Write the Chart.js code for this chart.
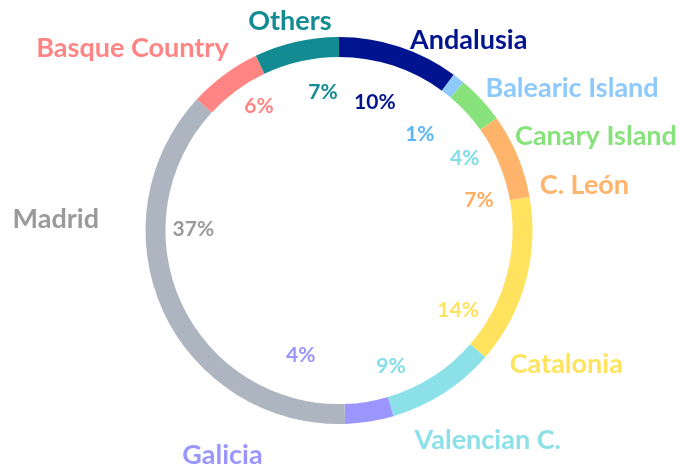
<!DOCTYPE html>
<html>
<head>
<meta charset="utf-8">
<script src="https://cdn.jsdelivr.net/npm/chart.js@4"></script>
<style>
    html, body { margin: 0; padding: 0; background: #ffffff; }
    #wrap { width: 680px; height: 467px; }
</style>
</head>
<body>
<div id="wrap"><canvas id="regionChart" width="680" height="467"></canvas></div>
<script>
// Share by region (%), clockwise from 12 o'clock
const regions = ['Andalusia', 'Balearic Island', 'Canary Island', 'C. León', 'Catalonia',
                 'Valencian C.', 'Galicia', 'Madrid', 'Basque Country', 'Others'];
const shares = [10, 1, 4, 7, 14, 9, 4, 37, 6, 7];
const pctLabels = ['10%', '1%', '4%', '7%', '14%', '9%', '4%', '37%', '6%', '7%'];

// Colours
const sliceColors = ['#00148f', '#8ec9fb', '#88e27c', '#ffb46c', '#ffe35e',
                     '#8ce0e8', '#9a96fd', '#adb6c0', '#ff8585', '#128c92'];
const nameColors = ['#00148f', '#8ec9fb', '#88e27c', '#ffb46c', '#ffe35e',
                    '#8ce0e8', '#9a96fd', '#9a9a9a', '#ff8585', '#128c92'];
const pctColors = ['#00148f', '#5ab6f5', '#7fdde6', '#ffad62', '#ffe35e',
                   '#82dde6', '#9a96fd', '#9a9a9a', '#ff8585', '#128c92'];

// Label placement: [angle in degrees clockwise from top, radius as fraction of outer radius]
const namePlacement = [[34.3, 1.19], [58.7, 1.41], [69.8, 1.415], [79.5, 1.29], [120.4, 1.362],
                       [144.6, 1.327], [207.4, 1.309], [272.3, 1.465], [311.4, 1.423], [346.8, 1.11]];
const pctPlacement = [[15.6, 0.69], [40, 0.65], [60, 0.75], [77.8, 0.74], [123.7, 0.74],
                      [159, 0.75], [197, 0.675], [270.6, 0.753], [327.3, 0.765], [353.4, 0.72]];

const FONT = 'Lato, "Open Sans", sans-serif';

// Draws region names outside the ring and percentages inside it
const ringLabels = {
    id: 'ringLabels',
    afterDraw(chart) {
        const arc = chart.getDatasetMeta(0).data[0];
        if (!arc) return;
        const cx = arc.x, cy = arc.y, r = arc.outerRadius;
        const ctx = chart.ctx;
        ctx.save();
        ctx.textAlign = 'center';
        ctx.textBaseline = 'middle';

        const put = (text, place, color, font) => {
            const a = place[0] * Math.PI / 180;
            ctx.fillStyle = color;
            ctx.font = font;
            ctx.fillText(text, cx + Math.sin(a) * r * place[1], cy - Math.cos(a) * r * place[1]);
        };

        regions.forEach((name, i) => {
            put(name, namePlacement[i], nameColors[i], 'bold 27px ' + FONT);
            put(pctLabels[i], pctPlacement[i], pctColors[i], 'bold 21px ' + FONT);
        });
        ctx.restore();
    }
};

new Chart(document.getElementById('regionChart'), {
    type: 'doughnut',
    data: {
        labels: regions,
        datasets: [{
            data: shares,
            backgroundColor: sliceColors,
            borderWidth: 0,
            hoverOffset: 0
        }]
    },
    options: {
        responsive: false,
        animation: false,
        cutout: '89.7%',
        layout: {
            padding: { top: 37, bottom: 43, left: 0, right: 2 }
        },
        plugins: {
            legend: { display: false },
            tooltip: { enabled: false }
        }
    },
    plugins: [ringLabels]
});
</script>
</body>
</html>
